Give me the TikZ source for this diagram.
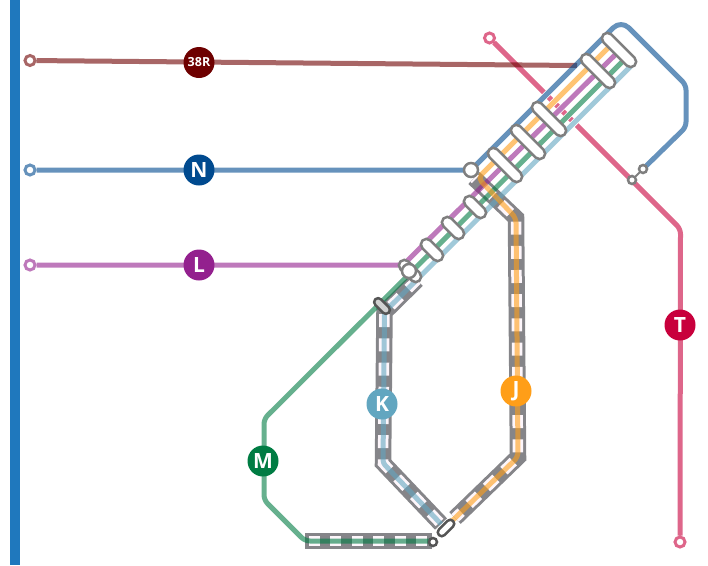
\documentclass[tikz,border=0pt]{standalone}
\usepackage{fontspec}
\setmainfont{Open Sans}
\usetikzlibrary{shapes.misc}

\definecolor{lineN}{HTML}{004A8F}
\definecolor{lineL}{HTML}{93208E}
\definecolor{lineM}{HTML}{007C43}
\definecolor{lineK}{HTML}{62A6C0}
\definecolor{lineJ}{HTML}{FF9E18}
\definecolor{lineT}{HTML}{C8003C}
\definecolor{lineR}{HTML}{6E0000}
\definecolor{riverblue}{HTML}{1F78BD}
\definecolor{bandgray}{HTML}{858589}
\definecolor{bandgap}{HTML}{FDF6FB}
\definecolor{stopgray}{HTML}{7F7F7F}
\definecolor{stopdark}{HTML}{555555}

\tikzset{
    route/.style={draw=#1, opacity=0.6, line width=5pt, line join=round, rounded corners=5pt},
    casing/.style={draw=white, line width=6.5pt},
    band/.style={draw=bandgray, line width=16.5pt, line join=miter},
    bandwhite/.style={draw=bandgap, line width=10.5pt},
    badge/.style={circle, fill=#1, text=white, minimum size=31pt, inner sep=0pt, font=\fontsize{21}{21}\selectfont\bfseries},
    terminus/.style={circle, draw=#1, draw opacity=0.6, fill=white, line width=3pt, minimum size=10pt, inner sep=0pt},
    pill/.style={rounded rectangle, draw=stopgray, fill=white, line width=2.5pt, minimum width=#1, minimum height=11pt, inner sep=0pt, rotate=-45},
    hub/.style={circle, draw=stopgray, fill=white, line width=2.5pt, minimum size=#1, inner sep=0pt}
}

\begin{document}
\begin{tikzpicture}[x=1pt, y=-1pt]
    \useasboundingbox (0,0) rectangle (708,565);
    \fill[riverblue] (9.5,0) rectangle (20,565);

    \node (endR) at (30,60.5) [terminus=lineR] {};
    \node (endN) at (30,170) [terminus=lineN] {};
    \node (endL) at (30,265) [terminus=lineL] {};
    \node (endT) at (489.5,38) [terminus=lineT] {};
    \node (baseT) at (680,542) [terminus=lineT] {};

    \coordinate (joinR) at (577,65.5);
    \coordinate (turnN) at (471,170);
    \coordinate (peakN) at (621,20);
    \coordinate (sideN) at (686,85);
    \coordinate (lowN) at (686,127);
    \coordinate (tailN) at (643,169);
    \coordinate (bendT) at (680.5,229);
    \coordinate (turnL) at (403,265);
    \coordinate (topL) at (617.5,52.5);
    \coordinate (startM) at (432,541);
    \coordinate (flatM) at (305,541);
    \coordinate (gapM) at (309,541);
    \coordinate (lowM) at (264,500);
    \coordinate (highM) at (264,419);
    \coordinate (topM) at (624.5,59.5);
    \coordinate (footK) at (441,524);
    \coordinate (lowK) at (383,463);
    \coordinate (highK) at (384.5,312);
    \coordinate (upK) at (417,280);
    \coordinate (topK) at (631,66);
    \coordinate (footJ) at (450,523);
    \coordinate (lowJ) at (518,457);
    \coordinate (highJ) at (516,218);
    \coordinate (turnJ) at (478,178);
    \coordinate (startJ) at (474,178);
    \coordinate (bandJ) at (455,518);
    \coordinate (topJ) at (610.5,45.5);

    \draw[route=lineT] (endT) -- (bendT) -- (baseT);

    \draw[casing] (turnN) -- (peakN);
    \draw[casing] (turnJ) -- (topJ);
    \draw[casing] (turnL) -- (topL);
    \draw[casing] (highM) -- (topM);
    \draw[casing] (upK) -- (topK);

    \draw[band] (startJ) -- (highJ) -- (lowJ) -- (bandJ);
    \draw[bandwhite, dash pattern=on 13pt off 11.2pt, dash phase=11pt] (startJ) -- (highJ) -- (lowJ) -- (bandJ);
    \draw[band] (footK) -- (lowK) -- (highK) -- (upK);
    \draw[bandwhite, dash pattern=on 13pt off 11.2pt, dash phase=22pt] (footK) -- (lowK) -- (highK) -- (upK);
    \draw[band] (startM) -- (flatM);
    \draw[bandwhite, dash pattern=on 11pt off 10.4pt] (gapM) -- (startM);

    \draw[route=lineR] (endR) -- (joinR);
    \draw[route=lineN] (endN) -- (turnN) [rounded corners=11pt] -- (peakN) [rounded corners=5pt] -- (sideN) -- (lowN) -- (tailN);
    \draw[route=lineL] (endL) -- (turnL) -- (topL);
    \draw[route=lineM] (startM) -- (flatM) -- (lowM) -- (highM) -- (topM);
    \draw[route=lineK, rounded corners=3pt] (footK) -- (lowK) -- (highK) -- (topK);
    \draw[route=lineJ] (footJ) -- (bandJ) -- (lowJ) -- (highJ) -- (turnJ) -- (topJ);

    \node (stopA) at (619,50) [pill=44pt] {};
    \node (stopB) at (598,71) [pill=44pt] {};
    \node (stopC) at (549,119) [pill=44pt] {};
    \node (stopD) at (528,142) [pill=44pt] {};
    \node (stopE) at (505,165) [pill=44pt] {};
    \node (stopF) at (475,207) [pill=27pt] {};
    \node (stopG) at (453,228) [pill=27pt] {};
    \node (stopH) at (432,250) [pill=27pt] {};
    \node (stopI) at (410,271) [pill=27pt] {};
    \node (hubN) at (471,170) [hub=14pt] {};
    \node (hubL) at (409,271) [hub=14pt] {};
    \node (stopK) at (382,306) [pill=19pt, draw=stopdark, fill=black!18, minimum height=8pt] {};
    \node (stopS) at (446,528) [pill=20pt, draw=stopdark, minimum height=8pt, rotate=90] {};
    \node (hubS) at (433,542) [hub=8pt, draw=stopdark] {};
    \node (hubT) at (632,180) [hub=8pt] {};
    \node (hubX) at (643,169) [hub=8pt] {};
    \draw[draw=stopgray, line width=2pt] (hubT) -- (hubX);

    \node (badgeR) at (199,62.5) [badge=lineR, font=\fontsize{12.5}{13}\selectfont\bfseries] {38R};
    \node (badgeN) at (199,170) [badge=lineN] {N};
    \node (badgeL) at (199,265) [badge=lineL] {L};
    \node (badgeM) at (263,461) [badge=lineM] {M};
    \node (badgeK) at (382,404) [badge=lineK] {K};
    \node (badgeJ) at (516,391) [badge=lineJ] {J};
    \node (badgeT) at (680,325) [badge=lineT] {T};
\end{tikzpicture}
\end{document}
